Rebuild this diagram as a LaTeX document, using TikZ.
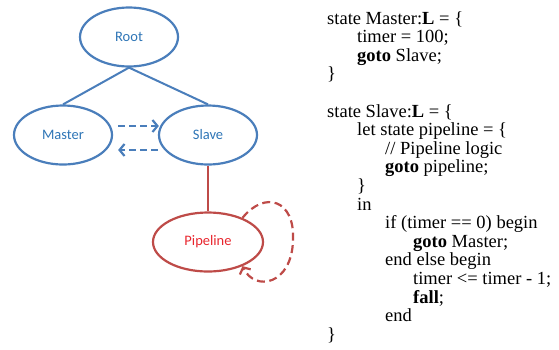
\documentclass[tikz,border=0pt]{standalone}
\usepackage{fontspec}
\setmainfont{Liberation Serif}
\newfontfamily\nodefont{Carlito}
\usetikzlibrary{shapes.geometric,arrows.meta,calc}
\definecolor{nodeblue}{HTML}{4A7EBB}
\definecolor{textblue}{HTML}{2E75B6}
\definecolor{nodered}{HTML}{BE4B48}
\definecolor{textred}{HTML}{E8262E}
\begin{document}
\begin{tikzpicture}[x=1pt,y=-1pt,
  state/.style={ellipse,draw,line width=2.2pt,inner sep=0pt,
    font=\nodefont\fontsize{14.5}{17}\selectfont},
  bluestate/.style={state,draw=nodeblue,text=textblue,minimum width=98pt,minimum height=59pt},
  redstate/.style={state,draw=nodered,text=textred,minimum width=110pt,minimum height=59pt},
  blueline/.style={draw=nodeblue,line width=2pt},
  bluedash/.style={blueline,dash pattern=on 7pt off 4pt,
    -{Straight Barb[length=5pt,width=12pt,line width=2.2pt]}},
  redline/.style={draw=nodered,line width=2.2pt},
  reddash/.style={redline,dash pattern=on 8pt off 4.5pt,
    -{Straight Barb[length=5pt,width=12pt,line width=2.2pt]}},
  code/.style={anchor=base west,inner sep=0pt,font=\fontsize{18.5}{18.6}\selectfont}]
\useasboundingbox (0,0) rectangle (559,349);

% state tree
\node[bluestate] (root)   at (129,37)  {Root};
\node[bluestate] (master) at (63,135)  {Master};
\node[bluestate] (slave)  at (208,135) {Slave};
\node[redstate]  (pipe)   at (208,242) {Pipeline};

\draw[blueline] (root.south) -- (master.north);
\draw[blueline] (root.south) -- (slave.north);
\draw[redline]  (slave.south) -- (pipe.north);

% transitions
\draw[bluedash] ($(master.east)+(5,-9)$) -- ($(slave.west)+(1,-9)$);
\draw[bluedash] ($(slave.west)+(0,15)$) -- ($(master.east)+(5,15)$);
\draw[reddash] (pipe.35) .. controls (265,190) and (295,200) .. (293,240)
  .. controls (292,285) and (255,292) .. (pipe.-35);

% behaviour description
\def\ia{327}\def\ib{357}\def\ic{385}\def\id{413}
\node[code] (l1)  at (\ia,24)    {state Master:\textbf{L} = \{};
\node[code] (l2)  at (\ib,42.6)  {timer = 100;};
\node[code] (l3)  at (\ib,61.2)  {\textbf{goto} Slave;};
\node[code] (l4)  at (\ia,79.8)  {\}};
\node[code] (l5)  at (\ia,117)   {state Slave:\textbf{L} = \{};
\node[code] (l6)  at (\ib,135.6) {let state pipeline = \{};
\node[code] (l7)  at (\ic,154.2) {// Pipeline logic};
\node[code] (l8)  at (\ic,172.8) {\textbf{goto} pipeline;};
\node[code] (l9)  at (\ib,191.4) {\}};
\node[code] (l10) at (\ib,210)   {in};
\node[code] (l11) at (\ic,228.6) {if (timer == 0) begin};
\node[code] (l12) at (\id,247.2) {\textbf{goto} Master;};
\node[code] (l13) at (\ic,265.8) {end else begin};
\node[code] (l14) at (\id,284.4) {timer <= timer - 1;};
\node[code] (l15) at (\id,303)   {\textbf{fall};};
\node[code] (l16) at (\ic,321.6) {end};
\node[code] (l17) at (\ia,340.2) {\}};
\end{tikzpicture}
\end{document}
